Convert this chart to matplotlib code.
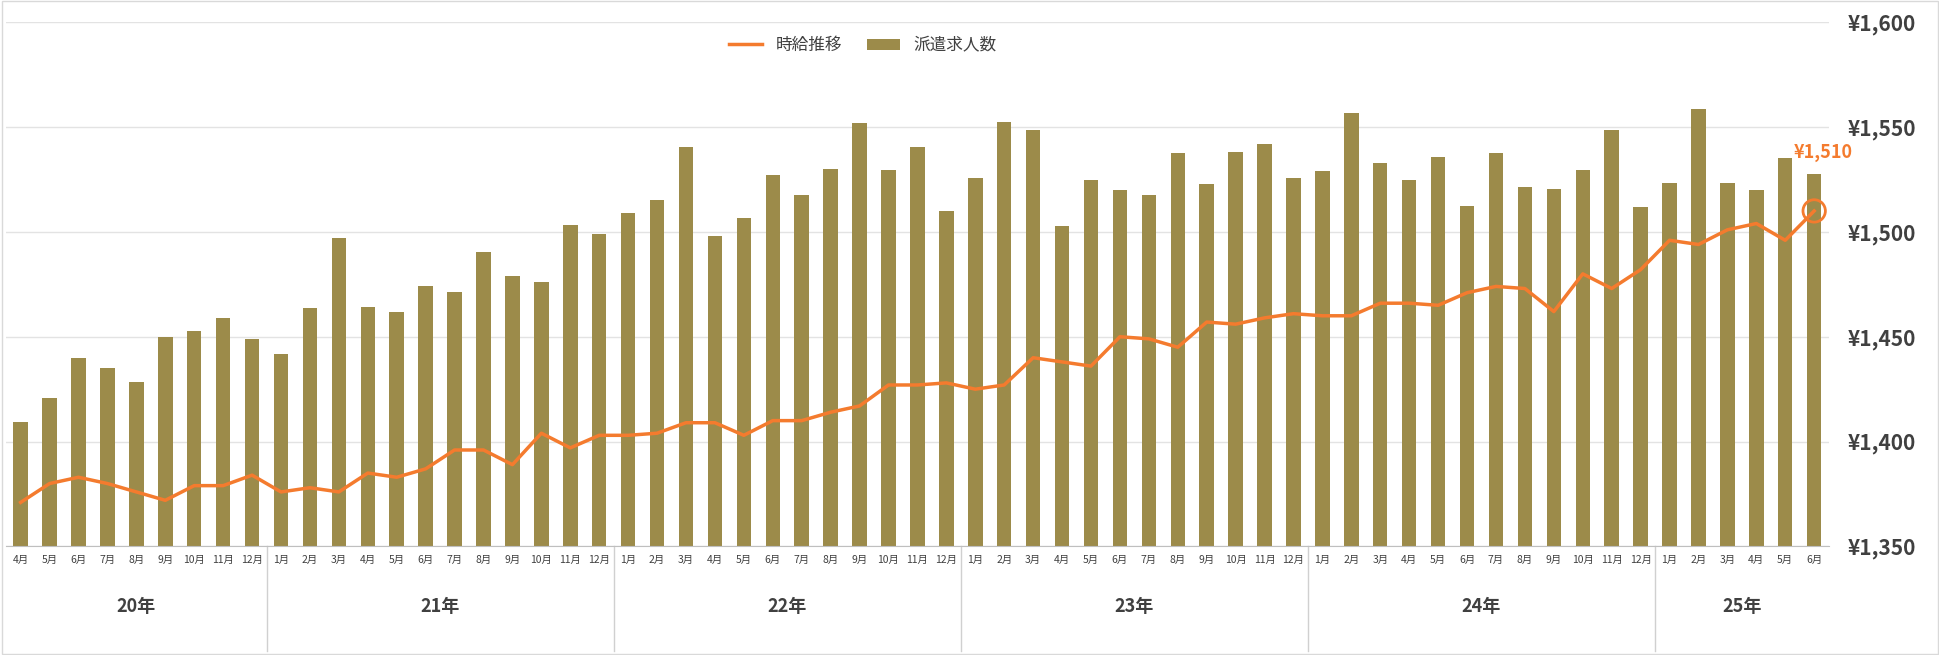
import matplotlib.pyplot as plt
import matplotlib.transforms as mtransforms
import numpy as np

plt.rcParams['font.family'] = ['Noto Sans CJK JP', 'DejaVu Sans']

# ── Data ──
years = ['20年', '21年', '22年', '23年', '24年', '25年']
year_months = [list(range(4, 13)), list(range(1, 13)), list(range(1, 13)),
               list(range(1, 13)), list(range(1, 13)), list(range(1, 7))]

# 派遣求人数 (relative scale)
jobs = [101, 120, 153, 145, 133, 170, 175, 185, 168,
        156, 193, 250, 194, 190, 211, 206, 239, 219, 214, 261, 253,
        270, 281, 324, 252, 266, 301, 285, 306, 343, 305, 324, 272,
        299, 344, 338, 260, 297, 289, 285, 319, 294, 320, 326, 299,
        304, 351, 311, 297, 316, 276, 319, 291, 290, 305, 338, 275,
        295, 355, 295, 289, 315, 302]

# 時給推移 (yen)
wage = [1371, 1380, 1383, 1380, 1376, 1372, 1379, 1379, 1384,
        1376, 1378, 1376, 1385, 1383, 1387, 1396, 1396, 1389, 1404, 1397, 1403,
        1403, 1404, 1409, 1409, 1403, 1410, 1410, 1414, 1417, 1427, 1427, 1428,
        1425, 1427, 1440, 1438, 1436, 1450, 1449, 1445, 1457, 1456, 1459, 1461,
        1460, 1460, 1466, 1466, 1465, 1471, 1474, 1473, 1462, 1480, 1473, 1482,
        1496, 1494, 1501, 1504, 1496, 1510]

month_labels = [f'{m}月' for ms in year_months for m in ms]
x = np.arange(len(jobs))

W, H = 1568, 531
fig = plt.figure(figsize=(19.4, 6.55), dpi=100)
ax = fig.add_axes([5 / W, 1 - 443 / H, (1478 - 5) / W, (443 - 18) / H])
ax2 = ax.twinx()
ax.set_zorder(ax2.get_zorder() + 1)
ax.patch.set_visible(False)

bar_color = '#9C8B4A'
line_color = '#F47B2E'

ax.bar(x, jobs, 0.5, color=bar_color, label='派遣求人数', zorder=2)
ax.set_ylim(0, 425)
ax.set_xlim(-0.5, len(jobs) - 0.5)
ax.set_yticks([])
ax.set_xticks(x)
ax.set_xticklabels(month_labels, fontsize=7.5, color='#404040')
ax.tick_params(axis='x', length=0, pad=6)
for s in ['top', 'left', 'right']:
    ax.spines[s].set_visible(False)
ax.spines['bottom'].set_color('#BFBFBF')

ln, = ax.plot(x, np.interp(wage, [1350, 1600], [0, 425]), color=line_color,
              lw=2.5, label='時給推移', zorder=3)
ax.scatter([x[-1]], [np.interp(wage[-1], [1350, 1600], [0, 425])], s=260,
           facecolors='none', edgecolors=line_color, linewidths=2, zorder=4)
ax.text(x[-1] + 0.3, np.interp(wage[-1], [1350, 1600], [0, 425]) + 40,
        f'¥{wage[-1]:,}', color=line_color, fontsize=13, fontweight='bold',
        ha='center', va='bottom', zorder=5)

ax2.set_ylim(1350, 1600)
ax2.set_yticks(range(1350, 1601, 50))
ax2.set_yticklabels([f'¥{v:,}' for v in range(1350, 1601, 50)],
                    fontsize=15, fontweight='bold', color='#404040')
ax2.tick_params(axis='y', length=0, pad=14)
ax2.grid(axis='y', color='#E3E3E3', lw=1)
for s in ax2.spines.values():
    s.set_visible(False)

# Year grouping
trans = mtransforms.blended_transform_factory(ax.transData, ax.transAxes)
start = 0
for yr, ms in zip(years, year_months):
    end = start + len(ms)
    ax.text((start + end - 1) / 2, -0.115, yr, transform=trans, ha='center',
            va='center', fontsize=13, fontweight='bold', color='#404040')
    if end < len(jobs):
        ax.plot([end - 0.5, end - 0.5], [0, -0.2], transform=trans,
                color='#D0D0D0', lw=1, clip_on=False)
    start = end

ax.legend(loc='upper center', bbox_to_anchor=(0.47, 1.0), ncol=2,
          frameon=False, fontsize=12, handlelength=2, columnspacing=1.5,
          labelcolor='#404040')

fig.patches.append(plt.Rectangle((0.001, 0.002), 0.998, 0.996,
                                 transform=fig.transFigure, fill=False,
                                 ec='#D9D9D9', lw=1))

fig.savefig('out.png')
